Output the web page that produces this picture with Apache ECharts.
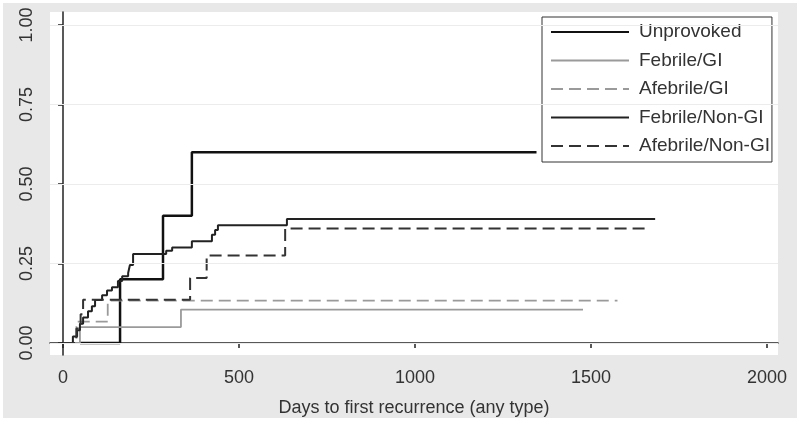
<!DOCTYPE html>
<html>
<head>
<meta charset="utf-8">
<script src="https://cdn.jsdelivr.net/npm/echarts@6/dist/echarts.min.js"></script>
<style>
  html, body { margin: 0; padding: 0; background: #fff; }
  #main { width: 800px; height: 424px; }
</style>
</head>
<body>
<div id="main"></div>
<script>
// step data: days and cumulative recurrence
var unprovokedDays = [48, 162, 284, 366, 1345];
var unprovokedRisk = [0, 0.20, 0.40, 0.60, 0.60];

var febrileGiDays = [0, 48, 335, 1477];
var febrileGiRisk = [0, 0.05, 0.105, 0.105];

var afebrileGiDays = [0, 38, 127, 1575];
var afebrileGiRisk = [0, 0.067, 0.133, 0.133];

var febrileNonGiDays = [0, 28, 40, 48, 57, 71, 82, 91, 111, 125, 139, 156, 168, 185, 190, 199, 293, 310, 366, 423, 432, 440, 636, 1682];
var febrileNonGiRisk = [0, 0.02, 0.04, 0.06, 0.08, 0.10, 0.115, 0.135, 0.15, 0.165, 0.175, 0.195, 0.21, 0.22, 0.245, 0.28, 0.29, 0.30, 0.32, 0.34, 0.355, 0.37, 0.39, 0.39];

var afebrileNonGiDays = [0, 38, 50, 57, 361, 408, 631, 1668];
var afebrileNonGiRisk = [0, 0.045, 0.09, 0.136, 0.204, 0.275, 0.36, 0.36];

var xTicks = [0, 500, 1000, 1500, 2000];
var yTicks = [0, 0.25, 0.5, 0.75, 1];

var font = "'Liberation Sans', Arial, sans-serif";

function pairs(xs, ys) {
    var out = [];
    for (var i = 0; i < xs.length; i++) {
        out.push([xs[i], ys[i]]);
    }
    return out;
}

function stepSeries(name, xs, ys, color, width, dashed) {
    return {
        name: name,
        type: 'line',
        step: 'end',
        symbol: 'none',
        animation: false,
        itemStyle: { color: color },
        lineStyle: {
            color: color,
            width: width,
            type: dashed ? [12, 6] : 'solid'
        },
        data: pairs(xs, ys)
    };
}

var chart = echarts.init(document.getElementById('main'));

var gridLines = yTicks.map(function (v) { return { yAxis: v }; });

var option = {
    animation: false,
    backgroundColor: 'transparent',
    graphic: [{
        type: 'rect',
        z: -10,
        silent: true,
        shape: { x: 3, y: 3, width: 794, height: 415 },
        style: { fill: '#e8e8e8' }
    }],
    grid: {
        left: 50,
        top: 12,
        width: 728,
        height: 343,
        show: true,
        backgroundColor: '#fff',
        borderWidth: 0
    },
    legend: {
        orient: 'vertical',
        left: 542,
        top: 17,
        padding: [5, 2, 6, 8],
        itemWidth: 78,
        itemHeight: 14,
        itemGap: 8.5,
        itemStyle: { opacity: 0 },  // hide the circle drawn on line icons
        backgroundColor: '#fff',
        borderColor: '#333',
        borderWidth: 1,
        textStyle: {
            fontFamily: font,
            fontSize: 19,
            lineHeight: 20,
            color: '#333',
            padding: [0, 0, 0, 5]
        },
        data: ['Unprovoked', 'Febrile/GI', 'Afebrile/GI', 'Febrile/Non-GI', 'Afebrile/Non-GI']
    },
    xAxis: {
        type: 'value',
        min: -37,
        max: 2031,
        name: 'Days to first recurrence (any type)',
        nameLocation: 'middle',
        nameGap: 44,
        nameTextStyle: { fontFamily: font, fontSize: 18, color: '#333' },
        axisLine: { show: true, lineStyle: { color: '#222', width: 1.5 } },
        axisTick: { show: true, length: 5, customValues: xTicks, lineStyle: { color: '#222', width: 1.5 } },
        axisLabel: {
            customValues: xTicks,
            margin: 14,
            fontFamily: font,
            fontSize: 18,
            color: '#333',
            formatter: function (v) { return String(v); }
        },
        splitLine: { show: false }
    },
    yAxis: {
        type: 'value',
        min: -0.038,
        max: 1.041,
        axisLine: { show: true, lineStyle: { color: '#222', width: 1.5 } },
        axisTick: { show: true, length: 5, customValues: yTicks, lineStyle: { color: '#222', width: 1.5 } },
        axisLabel: {
            customValues: yTicks,
            rotate: 90,
            margin: 14,
            fontFamily: font,
            fontSize: 18,
            color: '#333',
            formatter: function (v) { return v.toFixed(2); }
        },
        splitLine: { show: false }
    },
    series: [
        {
            type: 'line',
            data: [],
            silent: true,
            markLine: {
                silent: true,
                symbol: 'none',
                label: { show: false },
                lineStyle: { color: '#ececec', width: 1, type: 'solid' },
                data: gridLines
            }
        },
        stepSeries('Unprovoked', unprovokedDays, unprovokedRisk, '#111', 2.5, false),
        stepSeries('Febrile/GI', febrileGiDays, febrileGiRisk, '#9a9a9a', 1.8, false),
        stepSeries('Afebrile/GI', afebrileGiDays, afebrileGiRisk, '#9a9a9a', 1.8, true),
        stepSeries('Febrile/Non-GI', febrileNonGiDays, febrileNonGiRisk, '#222', 2, false),
        stepSeries('Afebrile/Non-GI', afebrileNonGiDays, afebrileNonGiRisk, '#333', 2, true)
    ]
};

chart.setOption(option);
</script>
</body>
</html>
